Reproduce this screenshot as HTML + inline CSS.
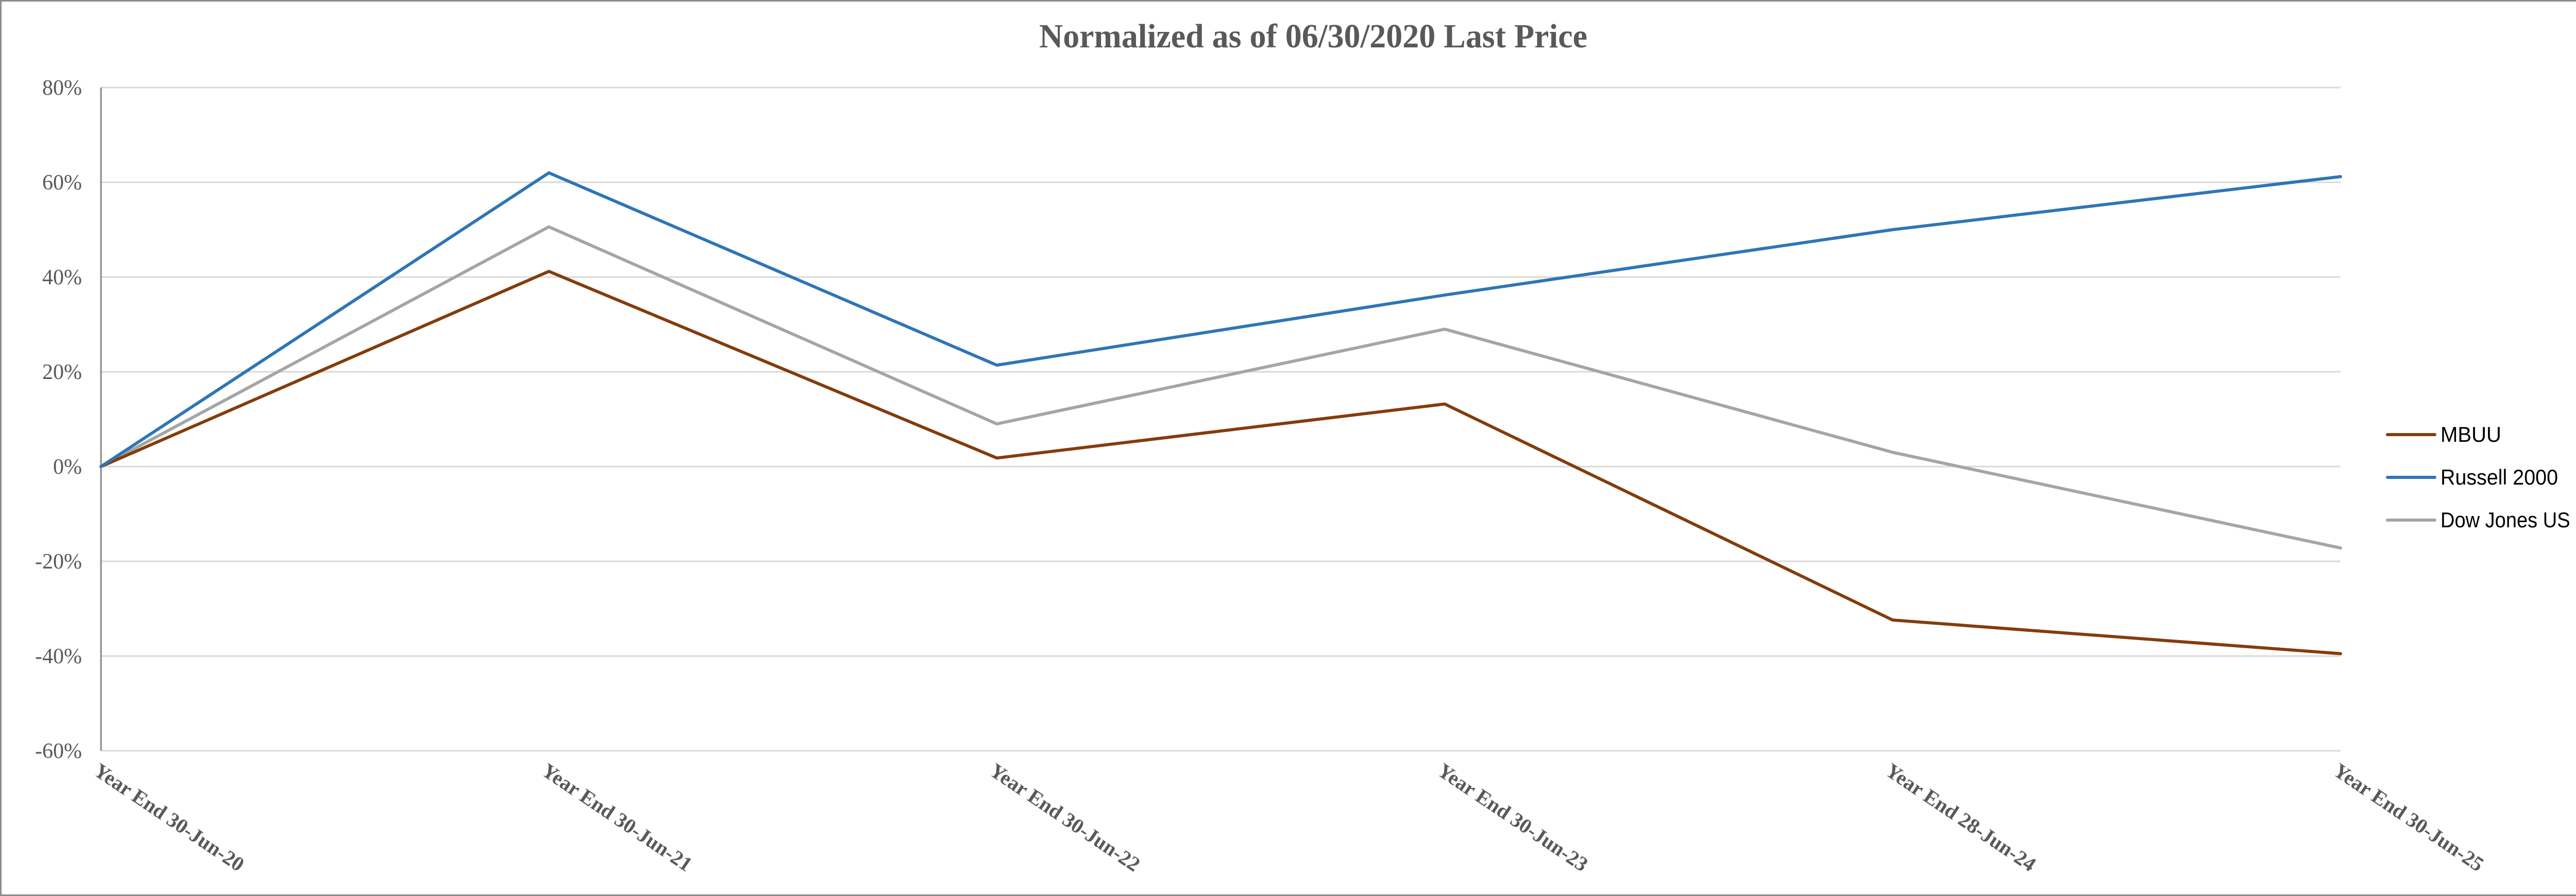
<!DOCTYPE html>
<html><head><meta charset="utf-8"><style>
html,body{margin:0;padding:0;background:#fff;overflow:hidden;}
svg{display:block;}
</style></head><body>
<svg id="chart" width="5101" height="1740" viewBox="0 0 5101 1740" xmlns="http://www.w3.org/2000/svg">
<rect x="1.5" y="1.5" width="5094" height="1737" fill="#fff" stroke="#8c8c8c" stroke-width="3"/>
<text x="2549" y="92" text-anchor="middle" font-family="'Liberation Serif',serif" font-weight="bold" font-size="66" fill="#595959" textLength="1064" lengthAdjust="spacingAndGlyphs">Normalized as of 06/30/2020 Last Price</text>
<g id="grid"></g><g id="yticks"></g><g id="xticks"></g><g id="series"></g>
<g>
<g><line x1="4634" y1="844" x2="4726" y2="844" stroke="#843C0C" stroke-width="6" stroke-linecap="round"/><text x="4737" y="858" font-family="'Liberation Sans',sans-serif" font-size="42" fill="#000" textLength="118" lengthAdjust="spacingAndGlyphs">MBUU</text></g>
<g><line x1="4634" y1="927" x2="4726" y2="927" stroke="#2E75B6" stroke-width="6" stroke-linecap="round"/><text x="4737" y="941" font-family="'Liberation Sans',sans-serif" font-size="42" fill="#000" textLength="228" lengthAdjust="spacingAndGlyphs">Russell 2000</text></g>
<g><line x1="4634" y1="1010" x2="4726" y2="1010" stroke="#A5A5A5" stroke-width="6" stroke-linecap="round"/><text x="4737" y="1024" font-family="'Liberation Sans',sans-serif" font-size="42" fill="#000" textLength="315" lengthAdjust="spacingAndGlyphs">Dow Jones US RP</text></g>
</g>
</svg>
<script>
const categories = ["Year End 30-Jun-20","Year End 30-Jun-21","Year End 30-Jun-22","Year End 30-Jun-23","Year End 28-Jun-24","Year End 30-Jun-25"];
const mbuuValues = [0, 41.2, 1.8, 13.2, -32.4, -39.5];
const russellValues = [0, 62.0, 21.4, 36.2, 50.0, 61.2];
const dowValues = [0, 50.6, 9.0, 29.0, 3.0, -17.2];
const yTicks = [80, 60, 40, 20, 0, -20, -40, -60];
const seriesNames = ["MBUU","Russell 2000","Dow Jones US RP"];

const NS = "http://www.w3.org/2000/svg";
const X0 = 196, X1 = 4543, Y_TOP = 170, Y_BOT = 1458, YMAX = 80, YMIN = -60;
function xPos(i){ return X0 + i * (X1 - X0) / (categories.length - 1); }
function yPos(v){ return Y_TOP + (YMAX - v) * (Y_BOT - Y_TOP) / (YMAX - YMIN); }
function mk(tag, attrs, parent){ const e = document.createElementNS(NS, tag); for (const k in attrs) e.setAttribute(k, attrs[k]); parent.appendChild(e); return e; }

const grid = document.getElementById('grid');
const yt = document.getElementById('yticks');
yTicks.forEach(v => {
  const l = mk('line', {x1: X0, x2: X1, y1: yPos(v), y2: yPos(v), stroke: '#d9d9d9', 'stroke-width': 3}, grid);
  
  
  const t = mk('text', {x: 159, y: yPos(v) + 14, 'text-anchor': 'end', 'font-family': "'Liberation Serif',serif", 'font-size': 42, fill: '#595959'}, yt);
  t.textContent = v + '%';
  
  
});
const ax = mk('line', {x1: X0, x2: X0, y1: Y_TOP, y2: Y_BOT, stroke: '#868686', 'stroke-width': 3}, grid);



const xt = document.getElementById('xticks');
categories.forEach((c, i) => {
  const x = xPos(i), y = 1478;
  const t = mk('text', {x: x, y: y + 30, transform: 'rotate(34 ' + x + ' ' + y + ')', 'font-family': "'Liberation Serif',serif", 'font-weight': 'bold', 'font-size': 40, fill: '#595959'}, xt);
  t.textContent = c;
  
  
});

const sg = document.getElementById('series');
[[dowValues, '#A5A5A5', 'series-dow-jones-us-rp'], [mbuuValues, '#843C0C', 'series-mbuu'], [russellValues, '#2E75B6', 'series-russell-2000']].forEach(s => {
  const pts = s[0].map((v, i) => xPos(i) + ',' + yPos(v)).join(' ');
  const p = mk('polyline', {points: pts, fill: 'none', stroke: s[1], 'stroke-width': 6, 'stroke-linejoin': 'round', 'stroke-linecap': 'round'}, sg);
  
  
});
</script>
</body></html>
